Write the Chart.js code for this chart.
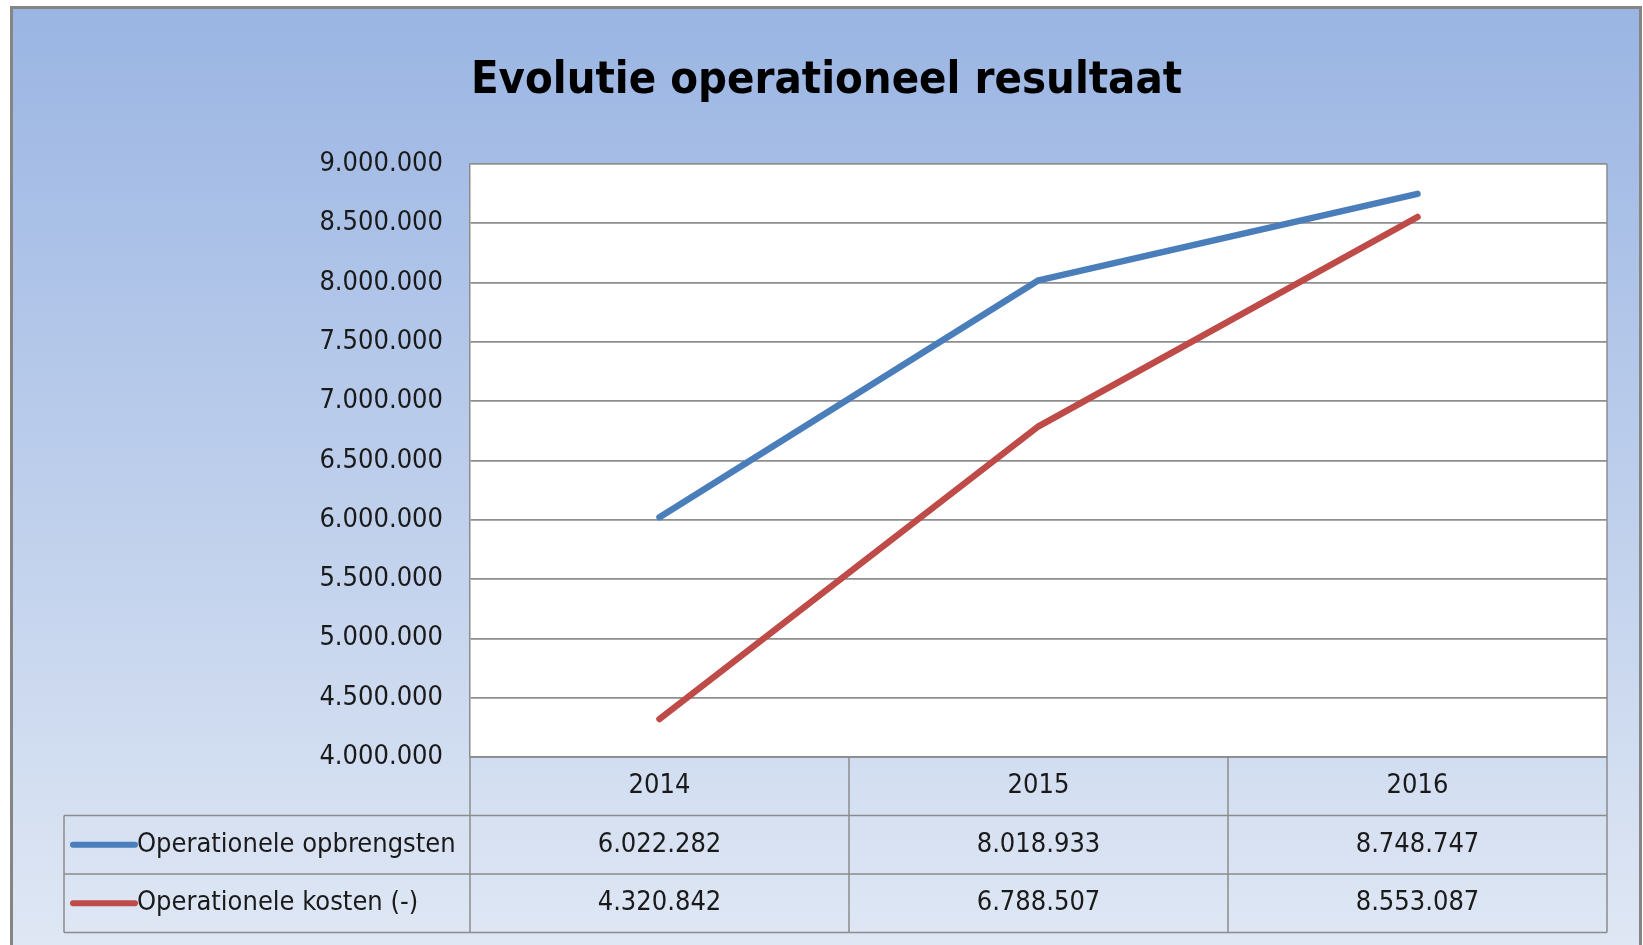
<!DOCTYPE html>
<html>
<head>
<meta charset="utf-8">
<script src="https://cdn.jsdelivr.net/npm/chart.js@4.4.1/dist/chart.umd.min.js"></script>
<style>
  html, body { margin: 0; padding: 0; background: #fff; }
  #wrap { width: 1643px; height: 945px; }
</style>
</head>
<body>
<div id="wrap"><canvas id="myChart" width="1643" height="945"></canvas></div>
<script>
'use strict';

const years = ['2014', '2015', '2016'];
const seriesNames = ['Operationele opbrengsten', 'Operationele kosten (-)'];
const opbrengsten = [6022282, 8018933, 8748747];
const kosten = [4320842, 6788507, 8553087];
const seriesColors = ['#4a7ebb', '#be4b48'];
const yMin = 4000000;
const yMax = 9000000;
const yStep = 500000;

const FONT = '"Liberation Sans Narrow", "DejaVu Sans Condensed", sans-serif';
const TEXT = '#1a1a1a';
const LINE = '#8c8c8c';

function fmt(v) {
  return Math.round(v).toString().replace(/\B(?=(\d{3})+(?!\d))/g, '.');
}

// achtergrond met kader + wit plotvlak
const frame = {
  id: 'frame',
  beforeDraw(chart) {
    const c = chart.ctx;
    const a = chart.chartArea;
    c.save();
    c.fillStyle = '#fff';
    c.fillRect(0, 0, chart.width, chart.height);
    const g = c.createLinearGradient(0, 7, 0, chart.height);
    g.addColorStop(0, '#9ab5e3');
    g.addColorStop(1, '#dfe7f4');
    c.fillStyle = g;
    c.fillRect(11, 7, 1630, chart.height);
    c.strokeStyle = '#858585';
    c.lineWidth = 3;
    c.strokeRect(11.5, 7.5, 1629, chart.height + 10);
    c.fillStyle = '#fff';
    c.fillRect(a.left, a.top, a.right - a.left, a.bottom - a.top);
    c.restore();
  }
};

// gegevenstabel onder de grafiek
const dataTable = {
  id: 'dataTable',
  afterDraw(chart) {
    const c = chart.ctx;
    const a = chart.chartArea;
    const xs = chart.scales.x;
    const colW = (a.right - a.left) / years.length;
    const rowH = 58.5;
    const tableLeft = 64;
    c.save();
    c.strokeStyle = LINE;
    c.lineWidth = 1.5;
    c.beginPath();
    c.moveTo(a.right, a.top);
    c.lineTo(a.right, a.bottom);
    c.moveTo(a.left, a.bottom);
    c.lineTo(a.right, a.bottom);
    for (let r = 1; r <= 3; r++) {
      c.moveTo(tableLeft, a.bottom + r * rowH);
      c.lineTo(a.right, a.bottom + r * rowH);
    }
    c.moveTo(tableLeft, a.bottom + rowH);
    c.lineTo(tableLeft, a.bottom + 3 * rowH);
    for (let k = 0; k <= years.length; k++) {
      c.moveTo(a.left + k * colW, a.bottom);
      c.lineTo(a.left + k * colW, a.bottom + 3 * rowH);
    }
    c.stroke();

    c.fillStyle = TEXT;
    c.font = '27px ' + FONT;
    c.textAlign = 'center';
    c.textBaseline = 'middle';
    years.forEach((y, i) => {
      c.fillText(y, xs.getPixelForValue(i), a.bottom + rowH / 2);
    });

    chart.data.datasets.forEach((ds, s) => {
      const cy = a.bottom + (s + 1.5) * rowH;
      c.strokeStyle = ds.borderColor;
      c.lineWidth = 6;
      c.lineCap = 'round';
      c.beginPath();
      c.moveTo(73, cy);
      c.lineTo(135, cy);
      c.stroke();
      c.fillStyle = TEXT;
      c.textAlign = 'left';
      c.fillText(ds.label, 137, cy);
      c.textAlign = 'center';
      ds.data.forEach((v, i) => {
        c.fillText(fmt(v), xs.getPixelForValue(i), cy);
      });
    });
    c.restore();
  }
};

const ctx = document.getElementById('myChart');

new Chart(ctx, {
  type: 'line',
  data: {
    labels: years,
    datasets: [{
      label: seriesNames[0],
      data: opbrengsten,
      borderColor: seriesColors[0],
      borderWidth: 6.5,
      borderCapStyle: 'round',
      borderJoinStyle: 'round',
      pointRadius: 0,
      tension: 0
    }, {
      label: seriesNames[1],
      data: kosten,
      borderColor: seriesColors[1],
      borderWidth: 6.5,
      borderCapStyle: 'round',
      borderJoinStyle: 'round',
      pointRadius: 0,
      tension: 0
    }]
  },
  options: {
    responsive: false,
    animation: false,
    layout: {
      padding: { left: 46, right: 36, top: 0, bottom: 188 }
    },
    scales: {
      x: {
        display: false,
        offset: true
      },
      y: {
        min: yMin,
        max: yMax,
        afterFit(scale) { scale.width = 424; },
        ticks: {
          stepSize: yStep,
          padding: 27,
          color: TEXT,
          font: { family: FONT, size: 27 },
          callback: (v) => fmt(v)
        },
        grid: {
          color: '#8e8e8e',
          lineWidth: 1.8,
          drawTicks: false
        },
        border: {
          color: LINE,
          width: 1.5
        }
      }
    },
    plugins: {
      legend: { display: false },
      tooltip: { enabled: false },
      title: {
        display: true,
        text: 'Evolutie operationeel resultaat',
        color: '#000',
        font: { family: FONT, size: 45, weight: 'bold' },
        padding: { top: 54, bottom: 56 }
      }
    }
  },
  plugins: [frame, dataTable]
});
</script>
</body>
</html>
